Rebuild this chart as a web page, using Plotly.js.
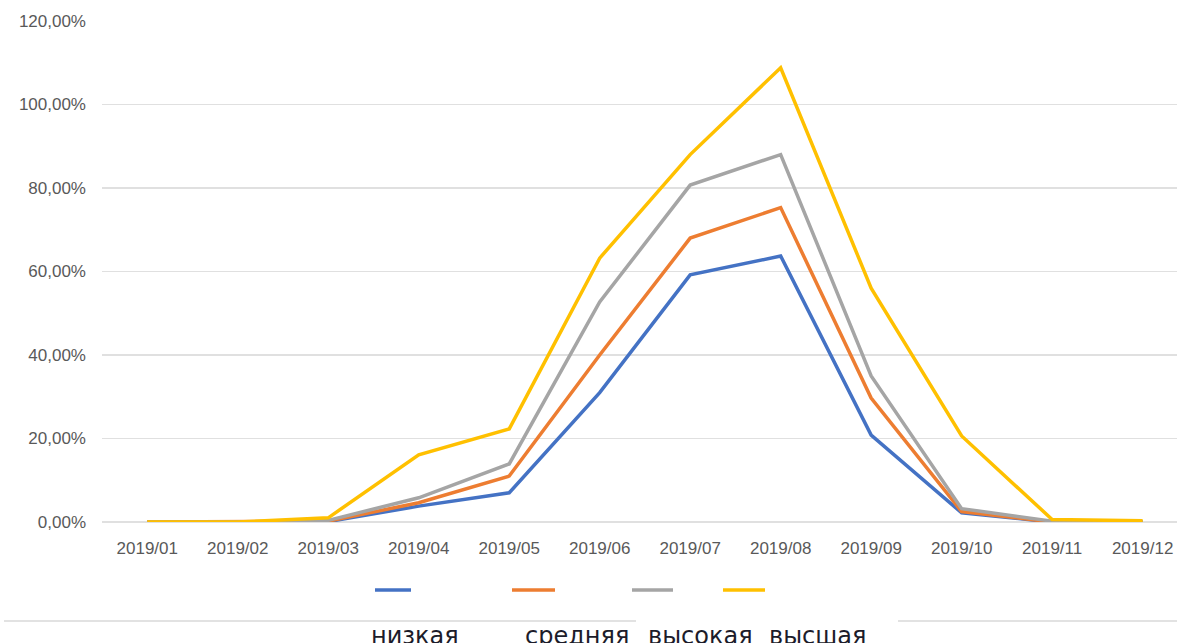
<!DOCTYPE html>
<html>
<head>
<meta charset="utf-8">
<script src="https://cdn.plot.ly/plotly-3.0.1.min.js"></script>
<style>html,body{margin:0;padding:0;background:#fff;}#chart{width:1177px;height:643px;}</style>
</head>
<body>
<div id="chart"></div>
<script>
// ---- data ----
const months = ["2019/01","2019/02","2019/03","2019/04","2019/05","2019/06","2019/07","2019/08","2019/09","2019/10","2019/11","2019/12"];
const seriesNames = ["низкая","средняя","высокая","высшая"];
const lowVals     = [0, 0, 0.1, 3.8, 7.0, 31.0, 59.2, 63.7, 20.8, 2.2, 0, 0];
const mediumVals  = [0, 0, 0.2, 4.6, 11.0, 40.0, 68.0, 75.3, 29.7, 2.5, 0, 0];
const highVals    = [0, 0, 0.4, 5.8, 13.9, 52.7, 80.7, 88.0, 35.0, 3.2, 0.2, 0];
const highestVals = [0, 0, 1.0, 16.1, 22.3, 63.2, 88.0, 108.8, 56.0, 20.6, 0.6, 0.3];
const yTicks = [0, 20, 40, 60, 80, 100, 120];
const yTickLabels = ["0,00%","20,00%","40,00%","60,00%","80,00%","100,00%","120,00%"];

const colors = ["#4472C4","#ED7D31","#A5A5A5","#FFC000"];
const allVals = [lowVals, mediumVals, highVals, highestVals];

const W = 1177, H = 643;
const plotL = 102, plotR = 1177, plotT = 21, plotB = 522;
const px2x = p => (p - plotL) / (plotR - plotL);
const py2y = p => (plotB - p) / (plotB - plotT);

const traces = allVals.map((v, i) => ({
  x: months.map((m, k) => k),
  y: v,
  type: "scatter",
  mode: "lines",
  name: seriesNames[i],
  line: {color: colors[i], width: 3.5},
  hoverinfo: "skip"
}));

// legend layout (pixels)
const legendLines = [[375, 411], [512, 555], [632, 673], [723, 765]];
const legendLineY = 590;
const labelCenters = [415, 577, 700, 817];

const shapes = legendLines.map((s, i) => ({
  type: "line", xref: "paper", yref: "paper",
  x0: px2x(s[0]), x1: px2x(s[1]), y0: py2y(legendLineY), y1: py2y(legendLineY),
  line: {color: colors[i], width: 3.5}
}));
shapes.push({type: "line", xref: "paper", yref: "paper", x0: px2x(4), x1: px2x(636), y0: py2y(621), y1: py2y(621), line: {color: "#e2e2e2", width: 2}});
shapes.push({type: "line", xref: "paper", yref: "paper", x0: px2x(898), x1: px2x(1177), y0: py2y(621), y1: py2y(621), line: {color: "#e2e2e2", width: 2}});

const annotations = seriesNames.map((n, i) => ({
  text: n, xref: "paper", yref: "paper",
  x: px2x(labelCenters[i]), y: py2y(620), xanchor: "center", yanchor: "top",
  showarrow: false,
  font: {family: "DejaVu Sans", size: 24, color: "#1c1c2a"}
}));

const layout = {
  width: W, height: H,
  margin: {l: plotL, r: W - plotR, t: plotT, b: H - plotB},
  paper_bgcolor: "#ffffff", plot_bgcolor: "#ffffff",
  showlegend: false,
  xaxis: {
    range: [-0.5, 11.38],
    tickmode: "array", tickvals: months.map((m, k) => k), ticktext: months,
    showgrid: false, zeroline: false, showline: false, ticks: "",
    tickfont: {family: "Liberation Sans", size: 17, color: "#595959"},
    ticklabelstandoff: 14,
    fixedrange: true
  },
  yaxis: {
    range: [0, 120],
    tickmode: "array", tickvals: yTicks, ticktext: yTickLabels,
    showgrid: true, gridcolor: "#e0e0e0", gridwidth: 1.5,
    zeroline: true, zerolinecolor: "#e0e0e0", zerolinewidth: 1.5,
    showline: false, ticks: "",
    tickfont: {family: "Liberation Sans", size: 17, color: "#595959"},
    ticklabelstandoff: 15,
    fixedrange: true
  },
  shapes: shapes,
  annotations: annotations
};

Plotly.newPlot("chart", traces, layout, {displayModeBar: false, staticPlot: true});
</script>
</body>
</html>
